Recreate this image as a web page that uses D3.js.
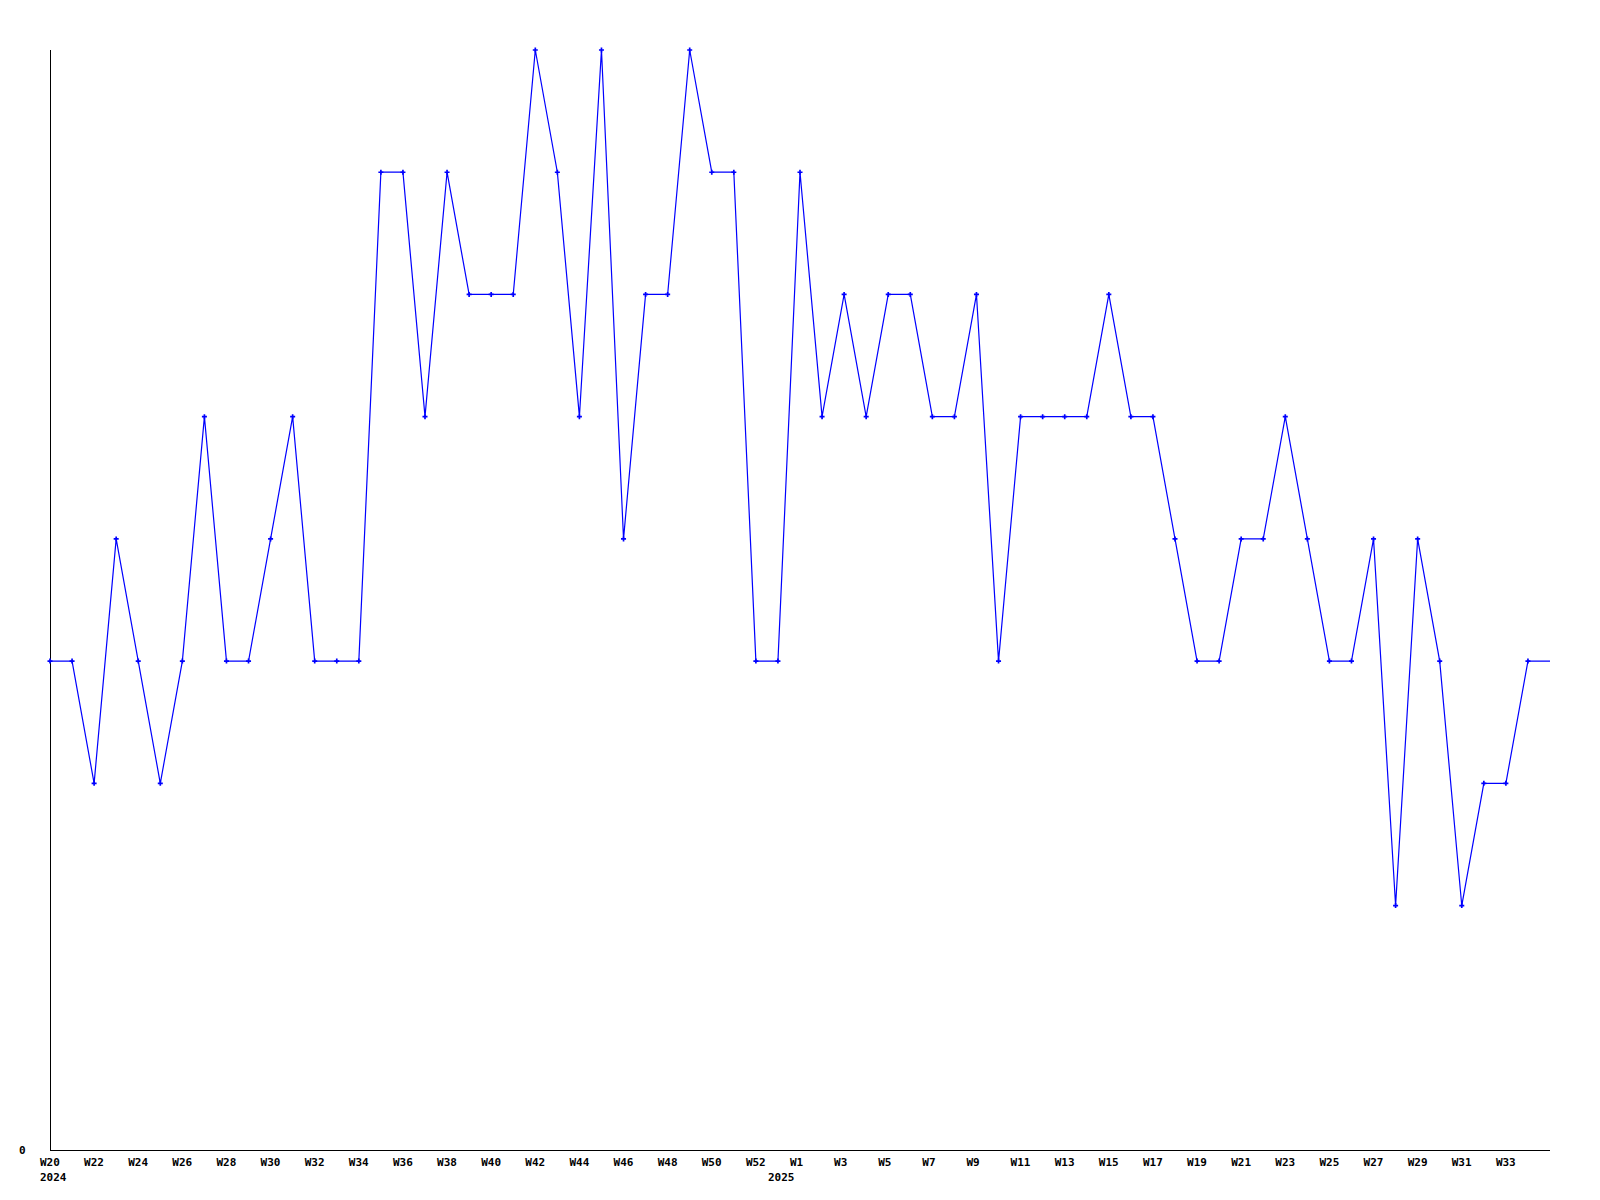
<!DOCTYPE html>
<html>
<head>
<meta charset="utf-8">
<script src="https://cdn.jsdelivr.net/npm/d3@7"></script>
<style>
  html, body { margin: 0; padding: 0; background: #fff; }
  svg { display: block; }
  text { font-family: "DejaVu Sans Mono", "Liberation Mono", monospace; font-weight: bold; font-size: 11px; fill: #000; }
</style>
</head>
<body>
<svg id="chart" width="1600" height="1200"></svg>
<script>
// Week categories (2024 uses a 53-week numbering in this chart)
const weeks = [
  "W20","W21","W22","W23","W24","W25","W26","W27","W28","W29","W30","W31","W32","W33","W34",
  "W35","W36","W37","W38","W39","W40","W41","W42","W43","W44","W45","W46","W47","W48","W49",
  "W50","W51","W52","W53",
  "W1","W2","W3","W4","W5","W6","W7","W8","W9","W10","W11","W12","W13","W14","W15","W16",
  "W17","W18","W19","W20","W21","W22","W23","W24","W25","W26","W27","W28","W29","W30","W31",
  "W32","W33","W34"
];
const values = [
  4,4,3,5,4,3,4,6,4,4,5,6,4,4,4,
  8,8,6,8,7,7,7,9,8,6,9,5,7,7,9,
  8,8,4,4,
  8,6,7,6,7,7,6,6,7,4,6,6,6,6,7,6,
  6,5,4,4,5,5,6,5,4,4,5,2,5,4,2,
  3,3,4
];
// current (partial) week continues at the last value to the right edge
const currentValue = 4;
const yearLabels = [{ year: "2024", at: 0 }, { year: "2025", at: 33 }];
const yTickLabels = [0];

(function () {
const svg = d3.select("#chart");
const mLeft = 50, mRight = 1550, mTop = 50, mBottom = 1150;

const x = d3.scaleLinear().domain([0, weeks.length]).range([mLeft, mRight]);
const y = d3.scaleLinear().domain([0, 9]).range([mBottom, mTop]);

// axes lines
svg.append("line").attr("x1", mLeft + 0.5).attr("x2", mLeft + 0.5).attr("y1", mTop).attr("y2", mBottom + 0.5)
  .attr("stroke", "#000").attr("stroke-width", 1);
svg.append("line").attr("x1", mLeft).attr("x2", mRight).attr("y1", mBottom + 0.5).attr("y2", mBottom + 0.5)
  .attr("stroke", "#000").attr("stroke-width", 1);

// y label
svg.selectAll(".ylab").data(yTickLabels).enter().append("text")
  .attr("class", "ylab")
  .attr("x", 19)
  .attr("y", d => y(d) + 4)
  .text(d => d);

// x labels every other week
svg.selectAll(".xlab").data(weeks.map((w, i) => ({ w, i })).filter(d => d.i % 2 === 0))
  .enter().append("text")
  .attr("class", "xlab")
  .attr("x", d => x(d.i) - 10)
  .attr("y", 1166)
  .text(d => d.w);

svg.selectAll(".yrlab").data(yearLabels).enter().append("text")
  .attr("class", "yrlab")
  .attr("x", d => x(d.at) - 10)
  .attr("y", 1181)
  .text(d => d.year);

// line
const pts = values.map((v, i) => [i, v]);
const linePts = pts.concat([[weeks.length, currentValue]]);
const line = d3.line().x(d => x(d[0])).y(d => y(d[1]));
svg.append("path").datum(linePts)
  .attr("d", line)
  .attr("fill", "none")
  .attr("stroke", "#0000ff")
  .attr("stroke-width", 1.2);

// markers
const sym = d3.symbol().type(d3.symbolCross).size(14);
svg.selectAll(".pt").data(pts).enter().append("path")
  .attr("class", "pt")
  .attr("transform", d => `translate(${x(d[0])},${y(d[1])})`)
  .attr("d", sym)
  .attr("fill", "#0000ff");
})();
</script>
</body>
</html>
